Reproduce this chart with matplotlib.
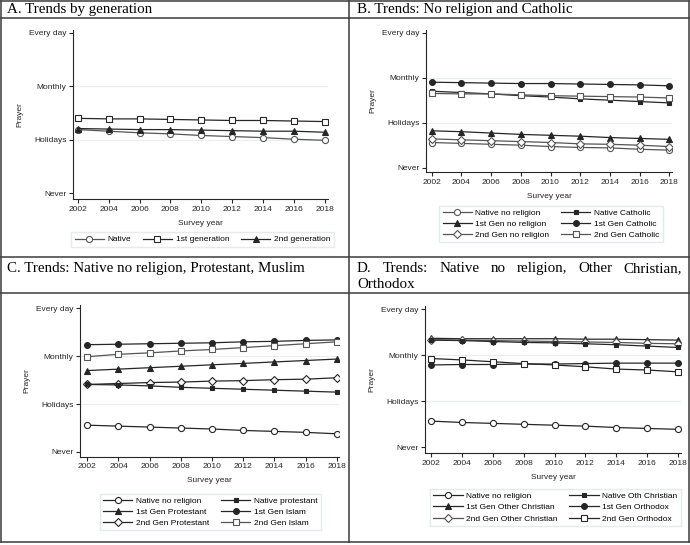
import matplotlib
matplotlib.use('Agg')
import matplotlib.pyplot as plt
from matplotlib.lines import Line2D

W, H = 690, 545

years = [2002, 2004, 2006, 2008, 2010, 2012, 2014, 2016, 2018]
prayer_ticks = [1, 2, 3, 4]
prayer_labels = ['Never', 'Holidays', 'Monthly', 'Every day']

# A. by generation
a_native = [2.19, 2.16, 2.13, 2.11, 2.08, 2.06, 2.04, 2.01, 1.99]
a_first = [2.40, 2.39, 2.39, 2.38, 2.37, 2.36, 2.36, 2.35, 2.34]
a_second = [2.21, 2.20, 2.19, 2.19, 2.18, 2.17, 2.16, 2.16, 2.14]

# B. no religion and catholic
b_native_norel = [1.56, 1.54, 1.52, 1.50, 1.47, 1.45, 1.44, 1.41, 1.39]
b_first_norel = [1.82, 1.80, 1.77, 1.74, 1.72, 1.70, 1.67, 1.65, 1.63]
b_second_norel = [1.64, 1.62, 1.60, 1.58, 1.56, 1.53, 1.52, 1.50, 1.47]
b_native_cath = [2.70, 2.67, 2.64, 2.60, 2.57, 2.53, 2.50, 2.47, 2.44]
b_first_cath = [2.90, 2.89, 2.88, 2.87, 2.87, 2.86, 2.85, 2.84, 2.82]
b_second_cath = [2.65, 2.64, 2.64, 2.62, 2.60, 2.59, 2.58, 2.57, 2.55]

# C. native no religion, protestant, muslim
c_native_norel = [1.56, 1.54, 1.52, 1.50, 1.48, 1.45, 1.43, 1.41, 1.38]
c_native_prot = [2.41, 2.40, 2.38, 2.35, 2.33, 2.31, 2.29, 2.27, 2.25]
c_first_prot = [2.70, 2.73, 2.76, 2.79, 2.82, 2.85, 2.88, 2.91, 2.94]
c_second_prot = [2.41, 2.43, 2.45, 2.46, 2.48, 2.49, 2.51, 2.52, 2.55]
c_first_islam = [3.24, 3.25, 3.26, 3.27, 3.28, 3.30, 3.31, 3.33, 3.34]
c_second_islam = [2.99, 3.04, 3.07, 3.11, 3.14, 3.18, 3.22, 3.26, 3.30]

# D. native no religion, other christian, orthodox
d_native_norel = [1.57, 1.54, 1.52, 1.50, 1.48, 1.46, 1.43, 1.41, 1.39]
d_native_othchr = [3.33, 3.32, 3.30, 3.28, 3.27, 3.25, 3.23, 3.20, 3.17]
d_first_othchr = [3.37, 3.36, 3.36, 3.36, 3.36, 3.35, 3.35, 3.34, 3.33]
d_second_othchr = [3.34, 3.33, 3.32, 3.31, 3.30, 3.29, 3.28, 3.26, 3.25]
d_first_orth = [2.79, 2.80, 2.80, 2.81, 2.81, 2.82, 2.83, 2.83, 2.83]
d_second_orth = [2.93, 2.90, 2.86, 2.82, 2.79, 2.75, 2.70, 2.68, 2.64]

SANS = 'Liberation Sans'
SERIF = 'Liberation Serif'
INK = '#262626'
GREY = '#555555'
FS = 6

# marker styles
OPEN_CIRCLE = dict(marker='o', ms=4.4, mfc='white')
OPEN_SQUARE = dict(marker='s', ms=4.0, mfc='white')
OPEN_DIAMOND = dict(marker='D', ms=3.6, mfc='white')
TRIANGLE = dict(marker='^', ms=4.4)
DOT = dict(marker='o', ms=4.2)
SMALL_SQUARE = dict(marker='s', ms=3.0)

fig = plt.figure(figsize=(W / 100, H / 100), dpi=100)
plt.rcParams['font.family'] = SANS


def make_axes(l, t, r, b, x2002, x2018, ynever, yevery):
    ax = fig.add_axes([l / W, 1 - b / H, (r - l) / W, (b - t) / H])
    xs = 16 / (x2018 - x2002)
    ys = 3 / (ynever - yevery)
    ax.set_xlim(2002 - (x2002 - l) * xs, 2018 + (r - x2018) * xs)
    ax.set_ylim(1 - (b - ynever) * ys, 4 + (yevery - t) * ys)
    for s in ['top', 'right']:
        ax.spines[s].set_visible(False)
    for s in ['left', 'bottom']:
        ax.spines[s].set_linewidth(0.8)
        ax.spines[s].set_color(INK)
    ax.set_xticks(years)
    ax.set_yticks(prayer_ticks, prayer_labels)
    ax.tick_params(labelsize=FS, length=3, width=0.8, pad=1.8, colors=INK)
    for v in [2, 3]:
        ax.axhline(v, color='#e2eced', lw=0.6, zorder=0)
    ax.set_xlabel('Survey year', fontsize=FS, labelpad=5, color=INK)
    ax.set_ylabel('Prayer', fontsize=FS, labelpad=4, color=INK)
    return ax


def series(ax, y, label, style, color=INK):
    kw = dict(style)
    kw.setdefault('mfc', color)
    return ax.plot(years, y, color=color, lw=0.9, mec=color, mew=0.8,
                   label=label, **kw)[0]


def legend(ax, handles, ncol, cx, cy):
    ax.legend(handles=handles, ncol=ncol, loc='center',
              bbox_to_anchor=(cx / W, 1 - cy / H), bbox_transform=fig.transFigure,
              fontsize=FS, frameon=True, fancybox=False, edgecolor='#dbe7e9',
              handlelength=3.5, handletextpad=0.45, columnspacing=1.4,
              labelspacing=0.4, borderpad=0.4)


# ---- Panel A
ax = make_axes(73, 30, 328, 199, 77.7, 325, 193.3, 32.7)
h1 = series(ax, a_native, 'Native', OPEN_CIRCLE, GREY)
h2 = series(ax, a_first, '1st generation', OPEN_SQUARE)
h3 = series(ax, a_second, '2nd generation', TRIANGLE)
legend(ax, [h1, h2, h3], 3, 202.5, 239.5)

# ---- Panel B
ax = make_axes(426, 30, 672, 172, 431.7, 669.3, 167.7, 32.7)
h1 = series(ax, b_native_norel, 'Native no religion', OPEN_CIRCLE, GREY)
h2 = series(ax, b_first_norel, '1st Gen no religion', TRIANGLE)
h3 = series(ax, b_second_norel, '2nd Gen no religion', OPEN_DIAMOND, GREY)
h4 = series(ax, b_native_cath, 'Native Catholic', SMALL_SQUARE)
h5 = series(ax, b_first_cath, '1st Gen Catholic', DOT)
h6 = series(ax, b_second_cath, '2nd Gen Catholic', OPEN_SQUARE, GREY)
legend(ax, [h1, h2, h3, h4, h5, h6], 2, 551, 224)

# ---- Panel C
ax = make_axes(80, 305, 339, 456.7, 87.3, 336.7, 452, 308.3)
h1 = series(ax, c_native_norel, 'Native no religion', OPEN_CIRCLE)
h2 = series(ax, c_first_prot, '1st Gen Protestant', TRIANGLE)
h3 = series(ax, c_second_prot, '2nd Gen Protestant', OPEN_DIAMOND)
h4 = series(ax, c_native_prot, 'Native protestant', SMALL_SQUARE)
h5 = series(ax, c_first_islam, '1st Gen Islam', DOT)
h6 = series(ax, c_second_islam, '2nd Gen Islam', OPEN_SQUARE, GREY)
legend(ax, [h1, h2, h3, h4, h5, h6], 2, 210.5, 512)

# ---- Panel D
ax = make_axes(425, 306, 681, 453.3, 430.7, 678.3, 447.3, 309.3)
h1 = series(ax, d_native_norel, 'Native no religion', OPEN_CIRCLE)
h2 = series(ax, d_first_othchr, '1st Gen Other Christian', TRIANGLE)
h3 = series(ax, d_second_othchr, '2nd Gen Other Christian', OPEN_DIAMOND, GREY)
h4 = series(ax, d_native_othchr, 'Native Oth Christian', SMALL_SQUARE)
h5 = series(ax, d_first_orth, '1st Gen Orthodox', DOT)
h6 = series(ax, d_second_orth, '2nd Gen Orthodox', OPEN_SQUARE)
legend(ax, [h1, h2, h3, h4, h5, h6], 2, 555.5, 507.5)

# ---- panel titles
title_kw = dict(family=SERIF, fontsize=10.8, va='baseline', ha='left', color='black')
fig.text(7 / W, 1 - 13.5 / H, 'A. Trends by generation', **title_kw)
fig.text(357 / W, 1 - 13.5 / H, 'B. Trends: No religion and Catholic', **title_kw)
fig.text(7 / W, 1 - 272 / H, 'C. Trends: Native no religion, Protestant, Muslim', **title_kw)

# D title is justified over the cell width
words = ['D.', 'Trends:', 'Native', 'no', 'religion,', 'Other', 'Christian,']
texts = [fig.text(0, 1 - 272 / H, w, **title_kw) for w in words]
renderer = fig.canvas.get_renderer()
widths = [t.get_window_extent(renderer).width for t in texts]
gap = (682 - 357 - sum(widths)) / (len(words) - 1)
x = 357
for t, w in zip(texts, widths):
    t.set_x(x / W)
    x += w + gap
fig.text(357 / W, 1 - 288.5 / H, 'Orthodox', **title_kw)

# ---- table borders
border = dict(color='#3a3a3a', lw=1.1, transform=fig.transFigure)
for y in [1, 18, 257, 293, 542]:
    fig.add_artist(Line2D([1 / W, 689 / W], [1 - y / H, 1 - y / H], **border))
for x in [1, 349, 689]:
    fig.add_artist(Line2D([x / W, x / W], [1 - 1 / H, 1 - 542 / H], **border))

fig.savefig('out.png', dpi=100)
